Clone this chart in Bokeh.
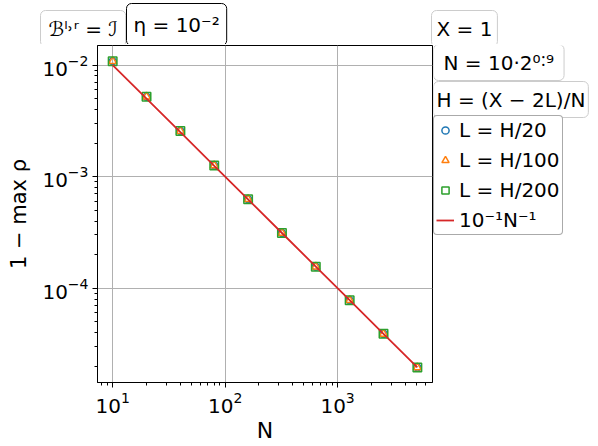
from bokeh.plotting import figure
from bokeh.models import Range1d, Label, Legend, LegendItem
from bokeh.layouts import row, column
from bokeh.embed import file_html
from bokeh.resources import INLINE

# ---- data ----
N = [10, 20, 40, 80, 160, 320, 640, 1280, 2560, 5120]
rho_L20 = [1.08e-2, 5.2e-3, 2.56e-3, 1.26e-3, 6.27e-4, 3.13e-4, 1.56e-4, 7.8e-5, 3.9e-5, 1.95e-5]
rho_L100 = [1.08e-2, 5.2e-3, 2.56e-3, 1.26e-3, 6.27e-4, 3.13e-4, 1.56e-4, 7.8e-5, 3.9e-5, 1.95e-5]
rho_L200 = [1.08e-2, 5.2e-3, 2.56e-3, 1.26e-3, 6.27e-4, 3.13e-4, 1.56e-4, 7.8e-5, 3.9e-5, 1.95e-5]
ref_line = [1e-2, 5e-3, 2.5e-3, 1.25e-3, 6.25e-4, 3.125e-4, 1.5625e-4, 7.8125e-5, 3.90625e-5, 1.953125e-5]

legend_labels = ["L = H/20", "L = H/100", "L = H/200", "10⁻¹N⁻¹"]
box_texts = ["ℬˡ˒ʳ = ℐ", "η = 10⁻²", "X = 1", "N = 10·2⁰˸⁹", "H = (X − 2L)/N"]
colors = ["#1f77b4", "#ff7f0e", "#2ca02c", "#d62728"]

FONT = "DejaVu Sans"
TOP_H = 44
MAIN_W, MAIN_H = 433, 401
BORDER_TOP, BORDER_BOTTOM = 1, 61
FRAME_H = MAIN_H - BORDER_TOP - BORDER_BOTTOM   # plot frame: page y 45..384
FRAME_TOP = TOP_H + BORDER_TOP
RIGHT_W = 160
TOTAL_W = MAIN_W + RIGHT_W


def blank(width, height, **kw):
    f = figure(width=width, height=height, x_range=Range1d(0, 1), y_range=Range1d(0, 1),
               x_axis_location=None, y_axis_location=None, output_backend="svg",
               toolbar_location=None, **kw)
    f.outline_line_color = None
    f.xgrid.visible = False
    f.ygrid.visible = False
    return f


def box(fig, frame_top_page, frame_h, left, top, text, edge, pad):
    # (x, y) is the box's top-left corner, y measured up from the frame bottom
    lab = Label(x=left, y=frame_h - (top - frame_top_page), x_units="screen", y_units="screen",
                text=text, text_font=FONT, text_font_size="20px", text_color="black",
                text_align="left", text_baseline="top",
                background_fill_color="white", background_fill_alpha=1,
                border_line_color=edge, border_line_width=1, border_radius=5, padding=pad)
    fig.add_layout(lab)


# ---- main plot ----
p = figure(width=MAIN_W, height=MAIN_H, x_axis_type="log", y_axis_type="log",
           x_range=Range1d(7.33, 6980), y_range=Range1d(1.43e-5, 1.496e-2),
           output_backend="svg", toolbar_location=None,
           min_border_left=97, min_border_right=1,
           min_border_top=BORDER_TOP, min_border_bottom=BORDER_BOTTOM)
p.outline_line_color = "black"
p.outline_line_width = 1

for ax in (p.xaxis[0], p.yaxis[0]):
    ax.major_label_text_font = FONT
    ax.major_label_text_font_size = "20px"
    ax.major_label_text_color = "black"
    ax.axis_label_text_font = FONT
    ax.axis_label_text_font_style = "normal"
    ax.axis_label_text_color = "black"
    ax.axis_line_color = "black"
    ax.major_tick_line_color = "black"
    ax.minor_tick_line_color = "black"
    ax.major_tick_in = 0
    ax.major_tick_out = 5
    ax.minor_tick_in = 0
    ax.minor_tick_out = 3

p.xaxis.axis_label_text_font_size = "22px"
p.yaxis.axis_label_text_font_size = "21px"
p.xaxis.major_label_standoff = 4
p.xaxis.axis_label_standoff = 2
p.yaxis.major_label_standoff = 4
p.yaxis.axis_label_standoff = 8

p.xaxis.axis_label = "N"
p.yaxis.axis_label = "1 − max ρ"

p.xgrid.grid_line_color = "#b0b0b0"
p.ygrid.grid_line_color = "#b0b0b0"

r1 = p.scatter(N, rho_L20, marker="circle", size=7, fill_color=None,
               line_color=colors[0], line_width=1.5)
r2 = p.scatter(N, rho_L100, marker="triangle", size=8, fill_color=None,
               line_color=colors[1], line_width=1.5)
r3 = p.scatter(N, rho_L200, marker="square", size=8.5, fill_color=None,
               line_color=colors[2], line_width=1.5)
r4 = p.line(N, ref_line, line_color=colors[3], line_width=1.8)

# ---- top strip with the parameter boxes above the plot ----
top = blank(TOTAL_W, TOP_H, min_border=0)
box(top, 0, TOP_H, 40, 10, box_texts[0], "#cccccc", (8, 6))
box(top, 0, TOP_H, 126, 3, box_texts[1], "black", (7, 9))
box(top, 0, TOP_H, 431, 10, box_texts[2], "#cccccc", (5, 6))

# ---- right strip (its frame lines up with the plot frame) ----
right = blank(RIGHT_W, MAIN_H, min_border_left=0, min_border_right=0,
              min_border_top=BORDER_TOP, min_border_bottom=BORDER_BOTTOM)
box(right, FRAME_TOP, FRAME_H, 0, 46, box_texts[3], "#cccccc", (10, 6))
box(right, FRAME_TOP, FRAME_H, 0, 83, box_texts[4], "#cccccc", (3, 6))

# legend swatches: the same series, which fall outside this strip's ranges
e1 = right.scatter(N, rho_L20, marker="circle", size=7, fill_color=None, line_color=colors[0], line_width=1.5)
e2 = right.scatter(N, rho_L100, marker="triangle", size=8, fill_color=None, line_color=colors[1], line_width=1.5)
e3 = right.scatter(N, rho_L200, marker="square", size=8, fill_color=None, line_color=colors[2], line_width=1.5)
e4 = right.line(N, ref_line, line_color=colors[3], line_width=1.8)

legend = Legend(items=[LegendItem(label=legend_labels[0], renderers=[e1]),
                       LegendItem(label=legend_labels[1], renderers=[e2]),
                       LegendItem(label=legend_labels[2], renderers=[e3]),
                       LegendItem(label=legend_labels[3], renderers=[e4])],
                location=(0, FRAME_H - (237 - FRAME_TOP)))
legend.label_text_font = FONT
legend.label_text_font_size = "20px"
legend.label_text_color = "black"
legend.border_line_color = "#555555"
legend.border_line_width = 1
legend.border_radius = 4
legend.background_fill_color = "white"
legend.background_fill_alpha = 1
legend.padding = 2
legend.spacing = 6
legend.margin = 0
legend.glyph_width = 18
legend.glyph_height = 20
legend.label_height = 20
legend.label_standoff = 5
right.add_layout(legend)

layout = column(top, row(p, right))
open("out.html", "w").write(file_html(layout, INLINE))
